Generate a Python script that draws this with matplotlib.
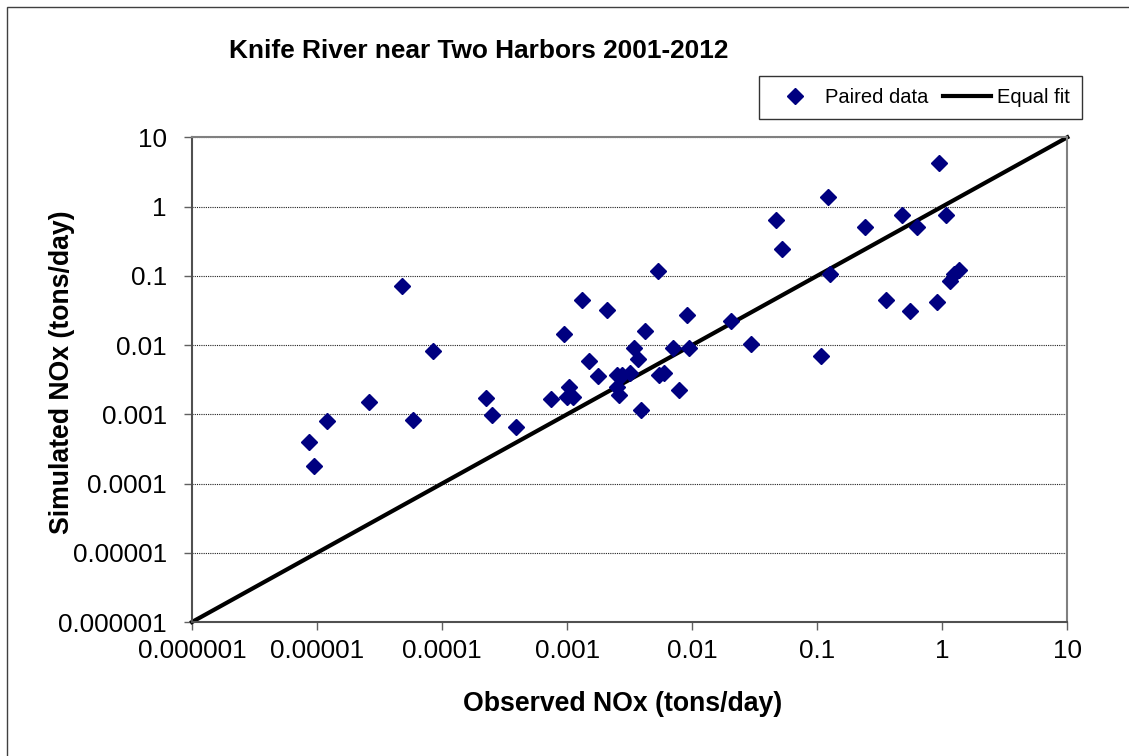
import matplotlib
matplotlib.use("Agg")
import matplotlib.pyplot as plt
from matplotlib.patches import Rectangle
from matplotlib.ticker import FixedLocator, FixedFormatter, NullLocator

plt.rcParams['font.family'] = ['Liberation Sans', 'DejaVu Sans']

# observed vs simulated NOx (tons/day)
observed = [8.6e-6, 9.4e-6, 1.2e-5, 2.6e-5, 4.8e-5, 5.8e-5, 8.4e-5,
            2.25e-4, 2.5e-4, 3.9e-4, 7.4e-4, 9.5e-4, 1.0e-3, 1.03e-3,
            1.12e-3, 1.32e-3, 1.5e-3, 1.76e-3, 2.1e-3, 2.5e-3, 2.5e-3,
            2.6e-3, 2.75e-3, 3.2e-3, 3.4e-3, 3.7e-3, 3.9e-3, 4.2e-3,
            5.3e-3, 5.4e-3, 6.0e-3, 7.0e-3, 7.9e-3, 9.1e-3, 9.5e-3,
            0.0205, 0.0295, 0.047, 0.052, 0.107, 0.123, 0.127, 0.239,
            0.352, 0.48, 0.55, 0.63, 0.9, 0.94, 1.08, 1.16, 1.25, 1.37]
simulated = [4.0e-4, 1.8e-4, 8.1e-4, 1.5e-3, 0.072, 8.2e-4, 0.0082,
             1.69e-3, 9.7e-4, 6.6e-4, 1.66e-3, 0.0145, 0.0018, 0.0025,
             0.0018, 0.045, 0.0058, 0.0036, 0.032, 0.0037, 0.0025,
             0.0019, 0.0037, 0.004, 0.009, 0.0063, 0.00117, 0.016,
             0.119, 0.0037, 0.004, 0.009, 0.00226, 0.0267, 0.009,
             0.0226, 0.0105, 0.64, 0.244, 0.007, 1.36, 0.105, 0.51,
             0.044, 0.76, 0.031, 0.51, 0.042, 4.26, 0.76, 0.085, 0.105, 0.12]

fit_x = [1e-6, 10]
fit_y = [1e-6, 10]

tick_vals = [1e-6, 1e-5, 1e-4, 1e-3, 1e-2, 1e-1, 1, 10]
tick_labels = ['0.000001', '0.00001', '0.0001', '0.001', '0.01', '0.1', '1', '10']

fig = plt.figure(figsize=(11.29, 7.56), dpi=100)
fig.patches.append(Rectangle((7 / 1129, -0.05), 1.2, 1 - 7 / 756 + 0.05,
                             transform=fig.transFigure, fill=False,
                             edgecolor='#404040', linewidth=1))

ax = fig.add_axes([192 / 1129, 1 - 622 / 756, 875.3 / 1129, 484.7 / 756])
ax.set_xscale('log')
ax.set_yscale('log')
ax.set_xlim(1e-6, 10)
ax.set_ylim(1e-6, 10)

ax.plot(observed, simulated, linestyle='none', marker='D', markersize=8.5,
        color='#000080', label='Paired data', zorder=3)
ax.plot(fit_x, fit_y, color='black', linewidth=3, label='Equal fit',
        zorder=2, clip_on=False)

for axis in (ax.xaxis, ax.yaxis):
    axis.set_major_locator(FixedLocator(tick_vals))
    axis.set_major_formatter(FixedFormatter(tick_labels))
    axis.set_minor_locator(NullLocator())

ax.yaxis.grid(True, color='#202020', linestyle=(0, (1, 1)), linewidth=0.8)
ax.tick_params(axis='both', direction='out', length=6, width=1,
               color='#606060', labelsize=18.7)
ax.tick_params(axis='y', pad=12)
ax.tick_params(axis='x', pad=6)
for s in ax.spines.values():
    s.set_color('#808080')
    s.set_linewidth(1.5)
ax.spines['left'].set_color('#505050')
ax.spines['bottom'].set_color('#505050')

fig.text(229 / 1129, 1 - 51 / 756, 'Knife River near Two Harbors 2001-2012',
         fontsize=18.9, fontweight='bold', ha='left', va='center')
fig.text(623 / 1129, 1 - 704 / 756, 'Observed NOx (tons/day)',
         fontsize=19.2, fontweight='bold', ha='center', va='center')
fig.text(62 / 1129, 1 - 372 / 756, 'Simulated NOx (tons/day)',
         fontsize=19.2, fontweight='bold', ha='center', va='center',
         rotation=90)

leg = ax.legend(loc='upper right', bbox_to_anchor=(1082 / 1129, 1 - 76 / 756),
                bbox_transform=fig.transFigure, ncol=2, fontsize=14.5,
                frameon=True, fancybox=False, edgecolor='black',
                handlelength=2.4, handletextpad=0.3, columnspacing=0.7,
                borderpad=0.6, borderaxespad=0, markerscale=0.9)
leg.get_frame().set_linewidth(1)

fig.savefig('out.png', dpi=100)
